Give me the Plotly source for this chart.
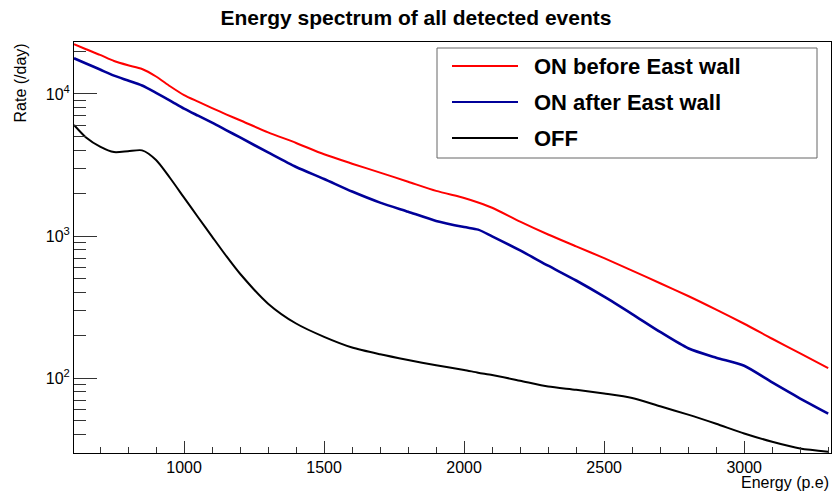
import plotly.graph_objects as go

# energy bins (p.e) and rates (/day)
energy = [607, 650, 700, 750, 800, 850, 900, 950, 1000, 1050, 1100, 1150, 1200,
          1300, 1400, 1500, 1600, 1700, 1800, 1900, 2000, 2050, 2100, 2200, 2300,
          2400, 2500, 2600, 2700, 2800, 2900, 3000, 3100, 3200, 3300]

on_before = [22400, 20650, 18840, 17060, 15920, 15000, 13280, 11330, 9820, 8830,
             7960, 7190, 6530, 5370, 4520, 3760, 3230, 2795, 2410, 2078, 1854,
             1722, 1580, 1262, 1024, 845, 698, 570, 465, 378, 303, 241, 189, 149, 117.5]

on_after = [17830, 16390, 14860, 13460, 12430, 11470, 10190, 8990, 7880, 7030,
            6280, 5570, 4940, 3875, 3060, 2520, 2055, 1718, 1482, 1277, 1156,
            1109, 995, 791, 618, 486, 374, 282, 211, 162, 139, 122, 93, 71.7, 56.2]

off = [6050, 4940, 4260, 3900, 3950, 4010, 3430, 2560, 1862, 1355, 991, 726, 542,
       334, 242, 195, 164, 147, 134, 123, 114, 109, 105, 95.7, 87, 82.7, 77.8,
       72.3, 63.2, 55.2, 47.6, 40.7, 35.6, 31.9, 30.3]

series = [("ON before East wall", on_before, "#ff0000", 2),
          ("ON after East wall", on_after, "#000099", 2.6),
          ("OFF", off, "#000000", 2)]

x_ticks = [1000, 1500, 2000, 2500, 3000]
y_ticks = [100, 1000, 10000]
y_ticktext = ["10<sup>2</sup>", "10<sup>3</sup>", "10<sup>4</sup>"]

FONT = "Liberation Sans, Arial, Helvetica, sans-serif"

fig = go.Figure()
for name, vals, color, w in series:
    fig.add_trace(go.Scatter(x=energy, y=vals, mode="lines", name=name,
                             line=dict(color=color, width=w, shape="spline", smoothing=0.7),
                             showlegend=False))

fig.update_layout(
    width=832, height=492,
    margin=dict(l=74, r=1, t=42, b=39),
    paper_bgcolor="white", plot_bgcolor="white",
    font=dict(family=FONT, size=16, color="black"),
    title=dict(text="<b>Energy spectrum of all detected events</b>",
               x=0.5, xref="container", xanchor="center",
               y=1 - 18 / 492, yref="container", yanchor="middle",
               font=dict(size=21, family=FONT)),
)

fig.update_xaxes(range=[607, 3310], showgrid=False, zeroline=False,
                 showline=True, linecolor="black", linewidth=1, mirror=True,
                 ticks="inside", ticklen=12, tickcolor="#333", tickwidth=1,
                 tickvals=x_ticks, tickfont=dict(size=16),
                 minor=dict(ticks="inside", ticklen=6, tickcolor="#333",
                            dtick=100, tick0=0, showgrid=False))

fig.update_yaxes(type="log", range=[1.472, 4.366], showgrid=False, zeroline=False,
                 showline=True, linecolor="black", linewidth=1, mirror=True,
                 ticks="inside", ticklen=23, tickcolor="#333", tickwidth=1,
                 tickvals=y_ticks, ticktext=y_ticktext, tickfont=dict(size=16),
                 minor=dict(ticks="inside", ticklen=12, tickcolor="#333",
                            dtick="D1", showgrid=False))

# axis titles, ROOT style (aligned to the far end of each axis)
fig.add_annotation(text="Rate (/day)", textangle=-90, xref="paper", yref="paper",
                   x=0, y=1, xanchor="center", yanchor="top", xshift=-54,
                   showarrow=False, font=dict(size=16))
fig.add_annotation(text="Energy (p.e)", xref="paper", yref="paper",
                   x=1, y=0, xanchor="right", yanchor="middle", yshift=-29,
                   showarrow=False, font=dict(size=16))

# legend box drawn by hand so the line samples match the long ROOT ones
fig.add_shape(type="rect", xref="paper", yref="paper",
              x0=(437 - 74) / 757, x1=(817 - 74) / 757,
              y0=(453 - 158) / 411, y1=(453 - 48) / 411,
              line=dict(color="#666", width=1), fillcolor="white", layer="above")
row_y = [66, 102, 138]
for (name, vals, color, w), ry in zip(series, row_y):
    yp = (453 - ry) / 411
    fig.add_shape(type="line", xref="paper", yref="paper",
                  x0=(452 - 74) / 757, x1=(518 - 74) / 757, y0=yp, y1=yp,
                  line=dict(color=color, width=2), layer="above")
    fig.add_annotation(text="<b>" + name + "</b>", xref="paper", yref="paper",
                       x=(532 - 74) / 757, y=yp, xanchor="left", yanchor="middle",
                       showarrow=False, font=dict(size=22))

fig.write_html("out.html", config={"displayModeBar": False},
               post_script="document.body.style.margin='0';")
